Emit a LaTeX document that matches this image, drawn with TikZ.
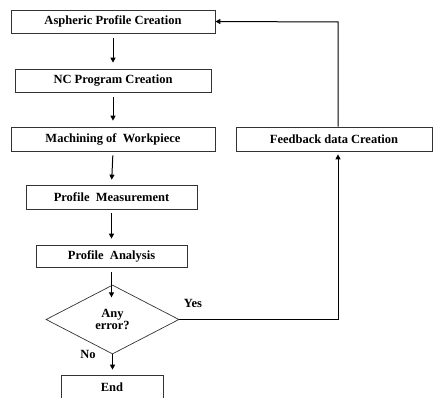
\documentclass[tikz,border=0pt]{standalone}
\usepackage{fontspec}
\setmainfont{Liberation Serif}
\usetikzlibrary{arrows.meta,shapes.geometric,calc}
\begin{document}
\begin{tikzpicture}[x=1pt,y=-1pt,
  box/.style={draw=black!80,line width=0.7pt,inner sep=0pt,font=\bfseries\fontsize{12.5}{14}\selectfont},
  dec/.style={draw=black!80,line width=0.7pt,diamond,aspect=1.9,inner sep=0pt,font=\bfseries\fontsize{12.5}{13.5}\selectfont,align=center},
  conn/.style={line width=1pt,-{Triangle[length=5pt,width=5pt]}},
  lbl/.style={font=\bfseries\fontsize{12.5}{14}\selectfont}]
\useasboundingbox (0,0) rectangle (433,398);
\clip (0,0) rectangle (433,398);
\node[box,minimum width=204pt,minimum height=23pt] (a) at (113,21.5) {Aspheric Profile Creation};
\node[box,minimum width=196pt,minimum height=23pt] (b) at (113,80.5) {NC Program Creation};
\node[box,minimum width=204pt,minimum height=24pt] (c) at (113,139) {Machining of\ \ Workpiece};
\node[box,minimum width=171pt,minimum height=24pt] (d) at (111.5,197) {Profile\ \ Measurement};
\node[box,minimum width=151pt,minimum height=22pt] (e) at (111.5,256) {Profile\ \ Analysis};
\node[dec,minimum width=133pt,minimum height=69pt] (f) at (112.5,319.5) {Any\\[-2pt]error?};
\node[box,minimum width=102pt,minimum height=40pt] (g) at (112,395) {};
\node[lbl] at (112,387) {End};
\node[box,minimum width=196pt,minimum height=24pt] (h) at (334,139) {Feedback data Creation};
\node[lbl] (yes) at (193,303) {Yes};
\node[lbl] (no) at (88,354) {No};
\coordinate (t1) at (338,22);
\coordinate (t2) at (338,319.5);
\draw[conn,shorten <=5pt,shorten >=6pt] (a.south) -- (b.north);
\draw[conn,shorten <=5pt,shorten >=6pt] (b.south) -- (c.north);
\draw[conn,shorten <=4pt,shorten >=5pt] (c.south) -- (d.north);
\draw[conn,shorten <=4pt,shorten >=6pt] (d.south) -- (e.north);
\draw[conn,shorten <=5pt] (e.south) -- ($(e.south)+(0,30)$);
\draw[conn,shorten >=5pt] (f.south) -- (f.south |- g.north);
\draw[conn] (h.north -| t1) -- (t1) -- (a.east);
\draw[conn,shorten >=3pt] (f.east) -- (t2) -- (h.south -| t2);
\end{tikzpicture}
\end{document}
